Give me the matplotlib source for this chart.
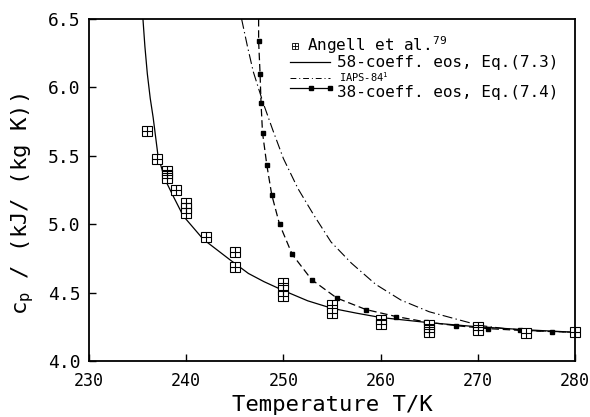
import matplotlib
matplotlib.use('Agg')
import matplotlib.pyplot as plt

plt.rcParams['font.family'] = ['DejaVu Sans Mono', 'DejaVu Sans']
plt.rcParams['mathtext.fontset'] = 'custom'
plt.rcParams['mathtext.rm'] = 'DejaVu Sans Mono'

angell_T = [236, 237, 238, 238, 238, 239, 240, 240, 240, 242, 245, 245,
            250, 250, 250, 255, 255, 260, 260, 265, 265, 265, 270, 270, 275, 280]
angell_cp = [5.68, 5.48, 5.39, 5.36, 5.335, 5.25, 5.155, 5.115, 5.08, 4.91, 4.80, 4.69,
             4.57, 4.52, 4.475, 4.41, 4.35, 4.30, 4.27, 4.26, 4.235, 4.215, 4.245, 4.23, 4.205, 4.21]

# 58-coeff eos, Eq.(7.3)
t58 = [235.55, 235.75, 236.0, 236.3, 236.6, 237.1, 237.8, 238.7, 239.7, 241.75,
       244.5, 246.4, 248.0, 250.0, 252.5, 255.0, 257.5, 260.0, 265.0, 270.0, 275.0, 280.0]
cp58 = [6.50, 6.30, 6.10, 5.92, 5.78, 5.50, 5.33, 5.20, 5.06, 4.89,
        4.74, 4.64, 4.58, 4.515, 4.44, 4.385, 4.35, 4.318, 4.28, 4.25, 4.228, 4.21]

# IAPS-84
t_iaps = [245.7, 246.3, 246.9, 247.9, 248.9, 250.0, 251.5, 253.1, 254.9, 257.0,
          259.5, 262.1, 265.0, 268.1, 270.2, 273.0, 276.0, 280.0]
cp_iaps = [6.50, 6.30, 6.115, 5.89, 5.69, 5.48, 5.26, 5.07, 4.87, 4.715,
           4.56, 4.445, 4.36, 4.30, 4.26, 4.235, 4.22, 4.21]

# 38-coeff eos, Eq.(7.4)
t38 = [247.45, 247.45, 247.6, 247.7, 247.85, 248.3, 248.8, 249.6, 250.9, 252.9,
       255.5, 258.5, 261.6, 264.7, 267.8, 271.0, 274.3, 277.6, 280.0]
cp38 = [6.50, 6.34, 6.10, 5.885, 5.67, 5.43, 5.215, 5.00, 4.78, 4.595,
        4.46, 4.376, 4.325, 4.285, 4.258, 4.237, 4.224, 4.215, 4.21]

xticks = [230, 240, 250, 260, 270, 280]
yticks = [4.0, 4.5, 5.0, 5.5, 6.0, 6.5]

fig = plt.figure(figsize=(5.9, 4.17), dpi=100)
ax = fig.add_axes([89 / 590, 56 / 417, 486 / 590, 342 / 417])

ax.plot(t58, cp58, 'k-', lw=0.9)
ax.plot(t_iaps, cp_iaps, color='k', lw=0.8, dashes=(9, 3, 1.2, 3))
ax.plot(t38, cp38, color='k', lw=0.9, dashes=(6, 3), marker='s', ms=2.8,
        markevery=slice(1, -1))

ax.plot(angell_T, angell_cp, 's', ms=7, mfc='white', mec='k', mew=0.8, clip_on=False)
ax.plot(angell_T, angell_cp, '+', ms=7, mec='k', mew=0.8, clip_on=False)

ax.set_xlim(230, 280)
ax.set_ylim(4.0, 6.5)
ax.set_xticks(xticks)
ax.set_yticks(yticks)
ax.set_xticklabels([str(t) for t in xticks], fontsize=12)
ax.set_yticklabels(['%.1f' % v for v in yticks], fontsize=13)
ax.tick_params(direction='in', length=5, width=1.0)
ax.tick_params(axis='x', pad=8)
ax.tick_params(axis='y', pad=6)
for s in ax.spines.values():
    s.set_linewidth(1.3)

ax.set_xlabel('Temperature T/K', fontsize=16)
ax.xaxis.set_label_coords(0.5, -0.1)
ax.set_ylabel(r'c$_\mathregular{p}$ / (kJ/ (kg K))', fontsize=16)
ax.yaxis.set_label_coords(-0.11, 0.46)

# legend, drawn by hand
def fx(px):
    return (px - 89) / 486

def fy(py):
    return (361 - py) / 342

tr = ax.transAxes
ax.plot([fx(295)], [fy(45.5)], 's', ms=4, mfc='white', mec='k', mew=0.6, transform=tr)
ax.plot([fx(295)], [fy(45.5)], '+', ms=4, mec='k', mew=0.6, transform=tr)
ax.text(fx(307), fy(50.5), r'Angell et al.$^{79}$', fontsize=11.5, va='baseline', transform=tr)

ax.plot([fx(290), fx(330)], [fy(62)] * 2, 'k-', lw=0.9, transform=tr)
ax.text(fx(337), fy(67), '58-coeff. eos, Eq.(7.3)', fontsize=11.5, va='baseline', transform=tr)

ax.plot([fx(290), fx(330)], [fy(77.5)] * 2, color='k', lw=0.7, dashes=(6, 3, 1, 3), transform=tr)
ax.text(fx(339), fy(81.5), r'IAPS-84$^1$', fontsize=7.5, va='baseline', transform=tr)

ax.plot([fx(290), fx(330)], [fy(87.5)] * 2, color='k', lw=0.9, transform=tr)
ax.plot([fx(311), fx(330)], [fy(87.5)] * 2, 's', color='k', ms=2.8, transform=tr)
ax.text(fx(337), fy(96.5), '38-coeff. eos, Eq.(7.4)', fontsize=11.5, va='baseline', transform=tr)

fig.savefig('out.png', dpi=100)
